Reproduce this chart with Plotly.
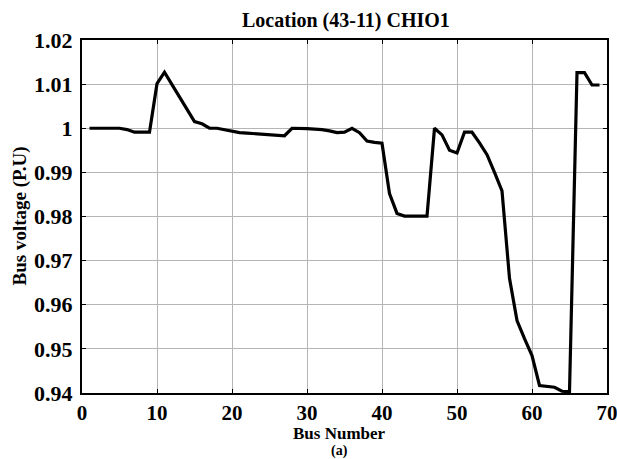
import plotly.graph_objects as go

bus = list(range(1, 70))
voltage = [
    1.0000, 1.0000, 1.0000, 1.0000, 1.0000, 0.9997, 0.9991, 0.9991, 0.9991, 1.0101,
    1.0127, 1.0099, 1.0072, 1.0044, 1.0015, 1.0010, 1.0000, 1.0000, 0.9997, 0.9993,
    0.9990, 0.9989, 0.9988, 0.9987, 0.9986, 0.9985, 0.9983, 1.0000, 1.0000, 0.9999,
    0.9998, 0.9997, 0.9994, 0.9990, 0.9991, 1.0000, 0.9990, 0.9971, 0.9968, 0.9966,
    0.9852, 0.9807, 0.9801, 0.9801, 0.9801, 0.9801, 1.0000, 0.9985, 0.9950, 0.9944,
    0.9991, 0.9991, 0.9967, 0.9940, 0.9900, 0.9858, 0.9660, 0.9564, 0.9523, 0.9485,
    0.9417, 0.9415, 0.9413, 0.9404, 0.9403, 1.0126, 1.0126, 1.0098, 1.0098,
]
x_ticks = [0, 10, 20, 30, 40, 50, 60, 70]
y_ticks = [0.94, 0.95, 0.96, 0.97, 0.98, 0.99, 1.00, 1.01, 1.02]
y_ticktext = ["0.94", "0.95", "0.96", "0.97", "0.98", "0.99", "1", "1.01", "1.02"]

FONT = "Liberation Serif"

fig = go.Figure()
fig.add_trace(go.Scatter(x=bus, y=voltage, mode="lines",
                         line=dict(color="black", width=3.2), showlegend=False))

axis_common = dict(
    showline=True, linecolor="black", linewidth=2, mirror="ticks",
    ticks="inside", ticklen=4, tickcolor="black", tickwidth=1,
    showgrid=True, gridcolor="#b5b5b5", gridwidth=1, zeroline=False,
    automargin=False, ticklabeloverflow="allow",
)

fig.update_layout(
    width=617, height=459,
    margin=dict(l=82, r=10, t=40, b=66),
    paper_bgcolor="white", plot_bgcolor="white",
    xaxis=dict(range=[0, 70], tickvals=x_ticks, ticktext=[str(v) for v in x_ticks],
               tickfont=dict(family=FONT, size=21, color="black", weight="bold"),
               **axis_common),
    yaxis=dict(range=[0.94, 1.02], tickvals=y_ticks, ticktext=y_ticktext,
               ticklabelstandoff=3,
               tickfont=dict(family=FONT, size=22, color="black", weight="bold"),
               **axis_common),
    annotations=[
        dict(text="<b>Location (43-11) CHIO1</b>", xref="paper", yref="paper",
             x=0.502, y=1.0, yshift=20, xanchor="center", yanchor="middle",
             showarrow=False, font=dict(family=FONT, size=20, color="black")),
        dict(text="<b>Bus Number</b>", xref="paper", yref="paper",
             x=0.49, y=0.0, yshift=-40, xanchor="center", yanchor="middle",
             showarrow=False, font=dict(family=FONT, size=17, color="black")),
        dict(text="<b>(a)</b>", xref="paper", yref="paper",
             x=0.49, y=0.0, yshift=-58, xanchor="center", yanchor="middle",
             showarrow=False, font=dict(family=FONT, size=14, color="black")),
        dict(text="<b>Bus voltage (P.U)</b>", xref="paper", yref="paper",
             x=0.0, xshift=-63, y=0.5, yshift=0, xanchor="center", yanchor="middle",
             textangle=-90,
             showarrow=False, font=dict(family=FONT, size=19, color="black")),
    ],
)

fig.write_html("out.html")
